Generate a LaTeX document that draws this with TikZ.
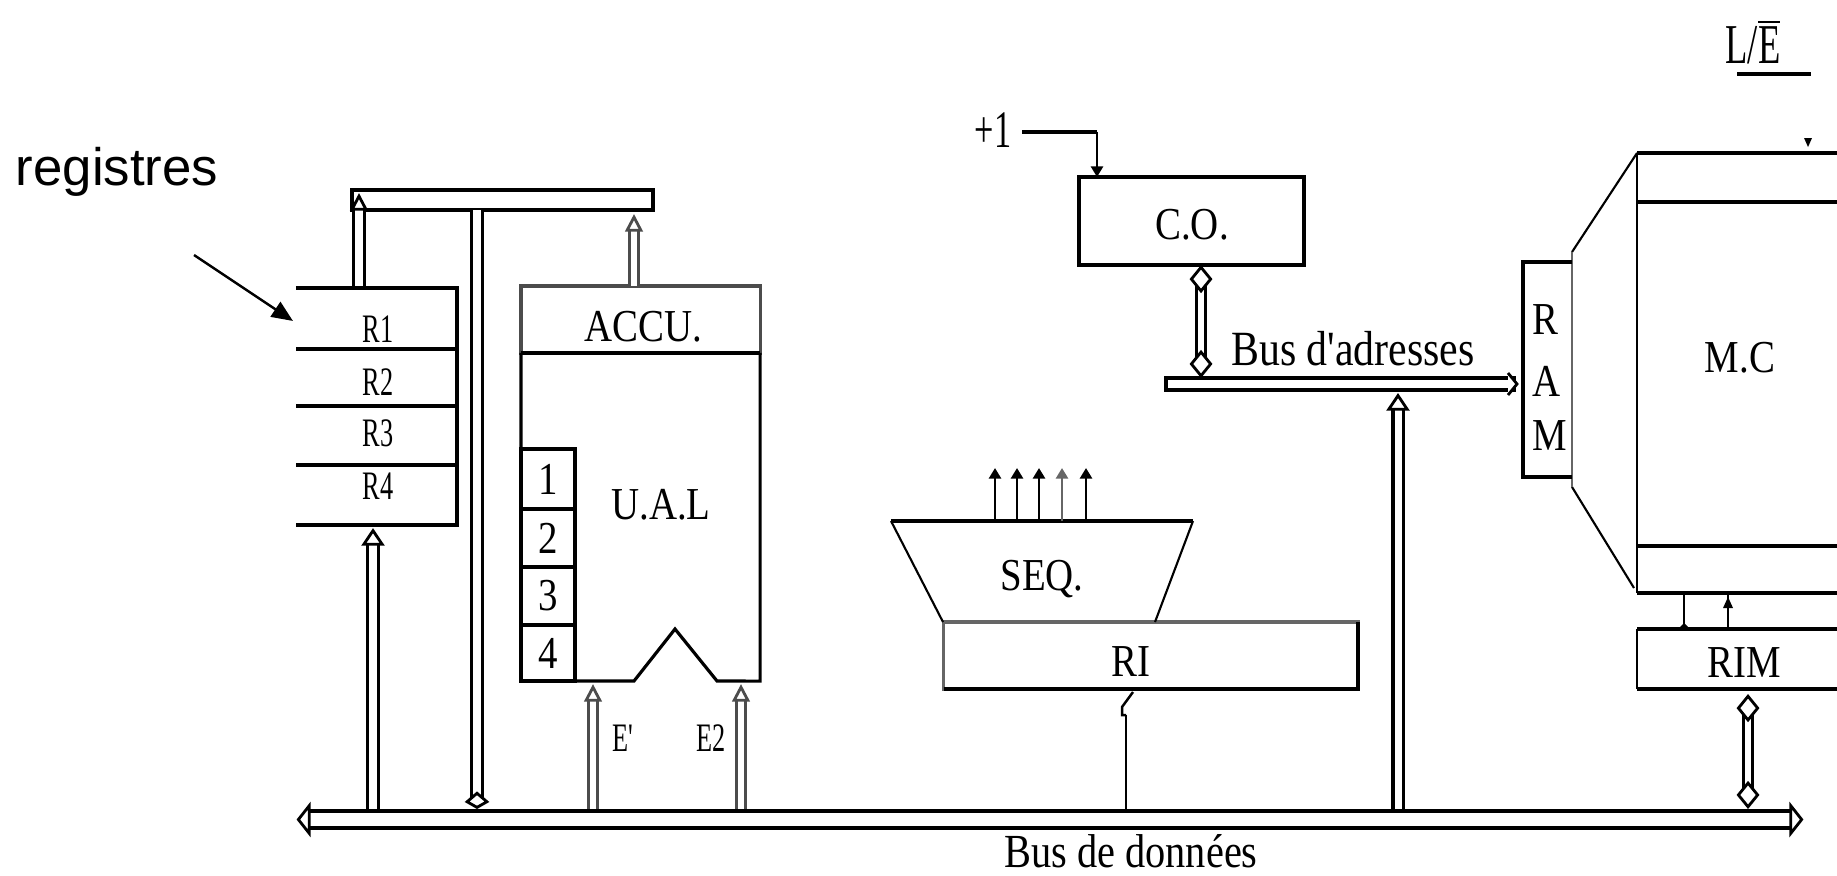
\documentclass[tikz,border=0pt]{standalone}
\usepackage{fontspec}
\usetikzlibrary{arrows.meta}
\newfontfamily\labfont[FakeStretch=0.85]{Liberation Serif}
\newfontfamily\regfont[FakeStretch=0.65]{Liberation Serif}
\newfontfamily\sansfont{Liberation Sans}
\begin{document}
\begin{tikzpicture}[x=0.01cm, y=-0.01cm]
    \useasboundingbox (0,0) rectangle (1837,875);

    % Style pour les boites et les textes
    \tikzstyle{box_style} = [rectangle, draw=black, line width=0.9pt, fill=white, inner sep=0pt, outer sep=0pt]
    \tikzstyle{zone_style} = [rectangle, inner sep=0pt, outer sep=0pt]
    \tikzstyle{label_style} = [inner sep=0pt, font=\labfont\fontsize{13}{13}\selectfont]
    \tikzstyle{wide_style} = [inner sep=0pt, font=\labfont\fontsize{14}{14}\selectfont]
    \tikzstyle{reg_style} = [inner sep=0pt, font=\regfont\fontsize{11.5}{12}\selectfont]

    % Style pour les bus et les fils
    \tikzstyle{bus_style} = [draw=black, line width=0.9pt, double=white, double distance=2.4pt]
    \tikzstyle{wire_style} = [draw=black, line width=0.8pt]
    \tikzstyle{up_tip} = [-{Triangle[open, fill=white, line width=0.8pt, length=5pt, width=6.5pt]}]
    \tikzstyle{thin_tip} = [-{Triangle[open, fill=white, line width=0.8pt, length=5pt, width=5pt]}]
    \tikzstyle{both_tip} = [{Kite[open, fill=white, line width=0.8pt, length=8pt, width=6.5pt, inset=4pt]}-{Kite[open, fill=white, line width=0.8pt, length=8pt, width=6.5pt, inset=4pt]}]
    \tikzstyle{small_tip} = [-{Triangle[length=3pt, width=3.4pt]}]

    % Colonnes des liaisons verticales
    \coordinate (col_top) at (359,0);
    \coordinate (col_reg) at (373,0);
    \coordinate (col_mid) at (477,0);
    \coordinate (col_acc) at (634,0);
    \coordinate (col_e1) at (593,0);
    \coordinate (col_e2) at (741,0);
    \coordinate (col_ri) at (1126,0);
    \coordinate (col_plus) at (1097,0);
    \coordinate (col_co) at (1201,0);
    \coordinate (col_ad) at (1398,0);
    \coordinate (col_rim) at (1748,0);
    \coordinate (col_lec) at (1684,0);
    \coordinate (col_ecr) at (1728,0);

    % Zones sans contour
    \node[zone_style, minimum width=15.06cm, minimum height=0.21cm] (databus) at (1050,819.5) {};
    \node[zone_style, minimum width=1.61cm, minimum height=2.37cm] (regs) at (376.5,406.5) {};
    \node[zone_style, minimum width=2.39cm, minimum height=3.28cm] (ual) at (640.5,517) {};

    % Bus du haut et registres
    \node[box_style, line width=1.1pt, minimum width=3.01cm, minimum height=0.2cm] (topbus) at (502.5,200) {};
    \draw[bus_style, thin_tip] (regs.north -| col_top) to ([yshift=-0.03cm]topbus.north -| col_top);
    \draw[bus_style, -{Kite[open, fill=white, line width=0.8pt, length=5pt, width=7pt, inset=3pt]}] (topbus.south -| col_mid) to (databus.north -| col_mid);
    \draw[bus_style, up_tip] (databus.north -| col_reg) to ([yshift=-0.03cm]regs.south -| col_reg);

    \draw[line width=1.1pt] (regs.north west) -- (regs.north east) -- (regs.south east) -- (regs.south west);
    \draw[line width=1.1pt] (296,349) -- (457,349);
    \draw[line width=1.1pt] (296,406) -- (457,406);
    \draw[line width=1.1pt] (296,465) -- (457,465);
    \node[reg_style] (R1) at (378,329) {R1};
    \node[reg_style] (R2) at (378,382) {R2};
    \node[reg_style] (R3) at (378,433) {R3};
    \node[reg_style] (R4) at (378,486) {R4};

    % Unite arithmetique et logique
    \node[box_style, draw=black!70, minimum width=2.39cm, minimum height=0.67cm] (accu) at (640.5,319.5) {};
    \node[label_style] (accutxt) at (643,327) {ACCU.};
    \draw[box_style] (ual.north west) -- (ual.south west) -- (634,681) -- (675,629) -- (717,681) -- (ual.south east) -- (ual.north east);
    \draw[line width=1.1pt] (accu.south west) -- (accu.south east);
    \node[label_style] (ualtxt) at (661,505) {U.A.L};
    \node[box_style, minimum width=0.54cm, minimum height=0.6cm, label_style] (cell1) at (548,479) {1};
    \node[box_style, minimum width=0.54cm, minimum height=0.58cm, label_style] (cell2) at (548,538) {2};
    \node[box_style, minimum width=0.54cm, minimum height=0.58cm, label_style] (cell3) at (548,596) {3};
    \node[box_style, minimum width=0.54cm, minimum height=0.56cm, label_style] (cell4) at (548,653) {4};

    \draw[bus_style, draw=black!70, double distance=1.7pt, thin_tip] (accu.north -| col_acc) to ([yshift=-0.04cm]topbus.south -| col_acc);
    \draw[bus_style, draw=black!70, double distance=1.7pt, thin_tip] (databus.north -| col_e1) to ([yshift=-0.03cm]ual.south -| col_e1);
    \draw[bus_style, draw=black!70, double distance=1.7pt, thin_tip] (databus.north -| col_e2) to ([yshift=-0.03cm]ual.south -| col_e2);
    \node[reg_style] (E1) at (623,738) {E'};
    \node[reg_style] (E2) at (711,738) {E2};

    % Bus de donnees
    \draw[bus_style, line width=1.2pt, double distance=3.7pt, {Triangle[open, fill=white, line width=0.8pt, length=4pt, width=10pt]}-{Triangle[open, fill=white, line width=0.8pt, length=4pt, width=10pt]}] (databus.west) to (databus.east);
    \node[inner sep=0pt, font=\labfont\fontsize{13.5}{13.5}\selectfont] (datatxt) at (1131,851) {Bus de données};

    % Sequenceur et registre d'instruction
    \node[box_style, draw=black!60, minimum width=4.14cm, minimum height=0.67cm] (ri) at (1151,655.5) {};
    \node[label_style] (ritxt) at (1131,662) {RI};
    \draw[line width=1.1pt] (ri.south west) -- (ri.south east) -- (ri.north east);
    \node[label_style] (seq) at (1042,579) {SEQ.};
    \draw[line width=0.6pt] (891,521) -- (943,622) (1193,521) -- (1155,622);
    \draw[line width=1.1pt] (891,521) -- (1193,521);
    \foreach \colx in {995, 1017, 1039, 1086} {
        \draw[wire_style, small_tip] (\colx,521) -- (\colx,468);
    }
    \draw[wire_style, draw=black!60, small_tip] (1062,521) -- (1062,468);
    \coordinate (rihook) at (1126,715);
    \draw[wire_style] (databus.north -| col_ri) to (rihook);
    \draw[line width=0.7pt] (rihook) -- (1122,715) -- (1122,707) -- (1133,692);

    % Compteur ordinal et bus d'adresses
    \node[box_style, line width=1pt, minimum width=2.25cm, minimum height=0.88cm] (co) at (1191.5,221) {};
    \node[label_style] (cotxt) at (1192,225) {C.O.};
    \node[inner sep=0pt, font=\regfont\fontsize{15}{15}\selectfont] (plus) at (993,130) {+1};
    \coordinate (plusend) at (1022,132);
    \draw[line width=1.1pt] (plusend) -- (col_plus |- plusend);
    \draw[wire_style, small_tip] (col_plus |- plusend) to (co.north -| col_plus);
    \node[box_style, line width=1.1pt, minimum width=3.48cm, minimum height=0.12cm] (adbus) at (1340,384) {};
    \draw[line width=0.8pt, fill=white] (1508,373) -- (1517,384) -- (1508,395);
    \draw[bus_style, double distance=1.7pt, both_tip] (co.south -| col_co) to (adbus.north -| col_co);
    \draw[bus_style, up_tip, double distance=2pt] (databus.north -| col_ad) to ([yshift=-0.03cm]adbus.south -| col_ad);
    \node[wide_style] (adtxt) at (1353,349) {Bus d'adresses};

    % Memoire centrale
    \draw[line width=0.6pt] (1572,252) -- (1637,153);
    \draw[line width=0.6pt] (1572,487) -- (1634,588);
    \draw[line width=0.7pt, draw=black!60] (1572,252) -- (1572,487);
    \node[zone_style, minimum width=0.49cm, minimum height=2.15cm] (ram) at (1547.5,369.5) {};
    \draw[line width=0.9pt] (ram.north east) -- (ram.north west) -- (ram.south west) -- (ram.south east);
    \node[label_style] (ramR) at (1545,320) {R};
    \node[label_style] (ramA) at (1547,381) {A};
    \node[label_style] (ramM) at (1550,436) {M};

    \node[zone_style, minimum width=2cm, minimum height=4.4cm] (mc) at (1737,373) {};
    \draw[line width=1.1pt] (mc.north east) -- (mc.north west);
    \draw[line width=0.8pt] (mc.north west) -- (mc.south west);
    \draw[line width=1.1pt] (mc.south west) -- (mc.south east);
    \draw[line width=1.1pt] (1637,202) -- (1837,202);
    \draw[line width=1.1pt] (1637,546) -- (1837,546);
    \node[label_style] (mctxt) at (1740,358) {M.C};
    \fill (1804,138) -- (1812,138) -- (1808,147) -- cycle;

    \node[inner sep=0pt, font=\regfont\fontsize{16}{16}\selectfont] (le) at (1753,42) {L/$\overline{\hbox{E}}$};
    \coordinate (lea) at (1737,74);
    \coordinate (leb) at (1811,74);
    \draw[line width=1.1pt] (lea) -- (leb);

    % Registre RIM
    \node[zone_style, minimum width=2cm, minimum height=0.6cm] (rim) at (1737,659) {};
    \node[label_style] (rimtxt) at (1744,663) {RIM};
    \draw[line width=1.1pt] (rim.north east) -- (rim.north west);
    \draw[line width=0.8pt] (rim.north west) -- (rim.south west);
    \draw[line width=1.1pt] (rim.south west) -- (rim.south east);
    \draw[line width=0.7pt] (col_lec |- rim.north) to (col_lec |- mc.south);
    \fill (1679,628) -- (1689,628) -- (1684,623) -- cycle;
    \draw[line width=0.7pt] (col_ecr |- rim.north) to (col_ecr |- mc.south);
    \fill (1723,608) -- (1733,608) -- (1728,597) -- cycle;
    \draw[bus_style, double distance=1.7pt, both_tip] ([yshift=-0.05cm]rim.south -| col_rim) to (databus.north -| col_rim);

    % Fleche et texte registres
    \node[inner sep=0pt, font=\sansfont\fontsize{15}{15}\selectfont] (regtxt) at (117,172) {registres};
    \coordinate (regfrom) at (194,255);
    \draw[line width=0.7pt, -{Triangle[length=6pt, width=5pt]}] (regfrom) -- ([xshift=-0.03cm, yshift=-0.33cm]regs.north west);
\end{tikzpicture}
\end{document}
